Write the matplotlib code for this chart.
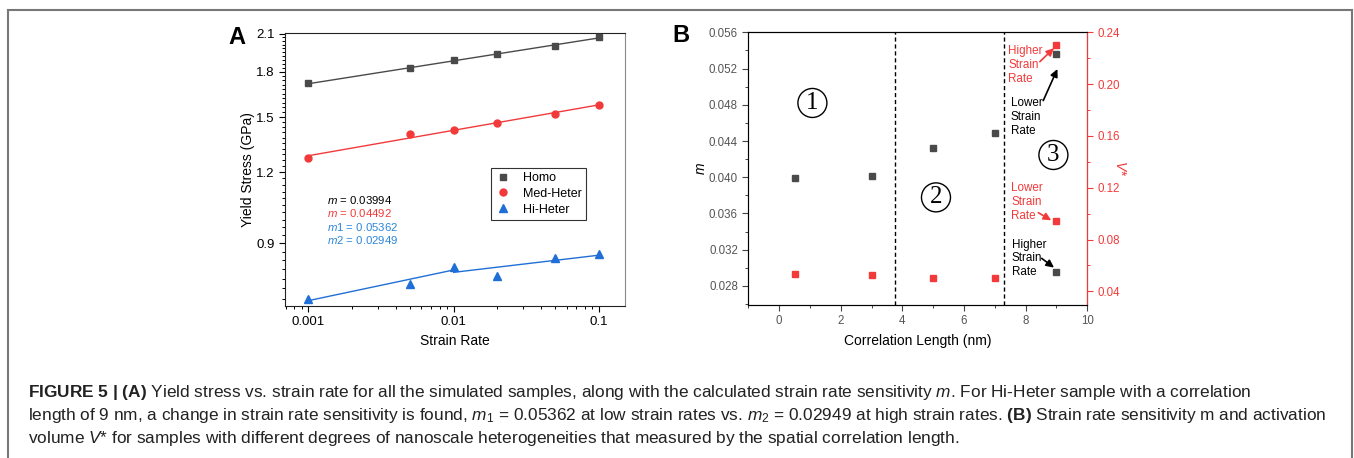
import numpy as np
import matplotlib
matplotlib.use("Agg")
import matplotlib.pyplot as plt
from matplotlib.patches import Rectangle

plt.rcParams['font.family'] = ['Liberation Sans', 'DejaVu Sans']
plt.rcParams['mathtext.fontset'] = 'custom'
plt.rcParams['mathtext.rm'] = 'Liberation Sans'
plt.rcParams['mathtext.it'] = 'Liberation Sans:italic'
plt.rcParams['mathtext.bf'] = 'Liberation Sans:bold'

# panel A data: yield stress vs strain rate
strain_rate = [0.001, 0.005, 0.01, 0.02, 0.05, 0.1]
homo = [1.719, 1.829, 1.886, 1.934, 1.998, 2.077]
med_heter = [1.273, 1.399, 1.422, 1.462, 1.521, 1.577]
hi_heter = [0.718, 0.764, 0.819, 0.788, 0.848, 0.862]
m_labels = [r"$m$ = 0.03994", r"$m$ = 0.04492", r"$m$1 = 0.05362", r"$m$2 = 0.02949"]

# panel B data: m and V* vs correlation length
corr_len = [0.5, 3, 5, 7, 9, 9]
m_vals = [0.03994, 0.0401, 0.0432, 0.04492, 0.05362, 0.02949]
vstar = [0.0535, 0.0527, 0.0504, 0.0504, 0.2302, 0.0947]

caption = [
    r"$\mathbf{FIGURE\ 5\ |\ (A)}$ Yield stress vs. strain rate for all the simulated samples, along with the calculated strain rate sensitivity $m$. For Hi-Heter sample with a correlation",
    r"length of 9 nm, a change in strain rate sensitivity is found, $m_1$ = 0.05362 at low strain rates vs. $m_2$ = 0.02949 at high strain rates. $\mathbf{(B)}$ Strain rate sensitivity m and activation",
    r"volume $V$* for samples with different degrees of nanoscale heterogeneities that measured by the spatial correlation length.",
]

gray = '#4a4a4a'
red = '#f23a3a'
blue = '#1f6fd6'
blue_txt = '#2b86d9'

fig = plt.figure(figsize=(13.54, 4.58), dpi=100)

# outer frame
fig.patches.append(Rectangle((8/1354, -0.05), 1344/1354, 1.05 - 10/458, transform=fig.transFigure,
                             fill=False, edgecolor='#777777', lw=1.5))

# ---------------- panel A ----------------
ax = fig.add_axes([285/1354, 1 - 305.5/458, 340/1354, 272.8/458])
x = np.array(strain_rate)
ax.plot(x, homo, 's', color=gray, ms=4.6, zorder=3)
ax.plot(x, med_heter, 'o', color=red, ms=5, zorder=3)
ax.plot(x, hi_heter, '^', color=blue, ms=5.6, zorder=3)

lx = np.log10(x)
for ys, c in [(homo, gray), (med_heter, red)]:
    p = np.polyfit(lx, np.log10(ys), 1)
    ax.plot(x[[0, -1]], 10**np.polyval(p, lx[[0, -1]]), color=c, lw=1)
# Hi-Heter has two fits (low and high rates)
hy = np.log10(hi_heter)
p1 = np.polyfit(lx[:3], hy[:3], 1)
p2 = np.polyfit(lx[2:], hy[2:], 1)
ax.plot(x[[0, 2]], 10**np.polyval(p1, lx[[0, 2]]), color=blue, lw=1)
ax.plot(x[[2, -1]], 10**np.polyval(p2, lx[[2, -1]]), color=blue, lw=1)

ax.set_xscale('log')
ax.set_yscale('log')
ax.set_xlim(0.00069, 0.151)
ax.set_ylim(0.7, 2.11)
ax.set_xticks([0.001, 0.01, 0.1], ['0.001', '0.01', '0.1'])
ax.set_yticks([0.9, 1.2, 1.5, 1.8, 2.1], ['0.9', '1.2', '1.5', '1.8', '2.1'])
ax.set_yticks(np.round(np.arange(0.72, 2.1, 0.03), 2), minor=True)
ax.yaxis.set_minor_formatter(plt.NullFormatter())
ax.tick_params(which='both', direction='out', labelsize=9.5, top=False, right=False)
ax.tick_params(which='major', length=4, width=0.8)
ax.tick_params(which='minor', length=2.2, width=0.7)
ax.spines['right'].set_color('#888888')
for s in ['left', 'bottom', 'top']:
    ax.spines[s].set_color('#222222')
ax.set_xlabel('Strain Rate', fontsize=10)
ax.set_ylabel('Yield Stress (GPa)', fontsize=10)
ax.xaxis.set_label_coords(0.5, -0.105)
ax.yaxis.set_label_coords(-0.088, 0.5)

ax.legend(['Homo', 'Med-Heter', 'Hi-Heter'], loc='upper left', bbox_to_anchor=(0.605, 0.505),
          fontsize=9, frameon=True, fancybox=False, edgecolor='black', handlelength=1.2,
          handletextpad=1.0, borderpad=0.35, labelspacing=0.3, borderaxespad=0)
ax.get_legend().get_frame().set_linewidth(0.8)

for lab, c, yy in zip(m_labels, ['black', red, blue_txt, blue_txt], [0.387, 0.340, 0.289, 0.240]):
    ax.text(0.123, yy, lab, color=c, fontsize=8.2, transform=ax.transAxes, va='center')

fig.text(237/1354, 1 - 37/458, 'A', fontsize=17, fontweight='bold', ha='center', va='center')

# ---------------- panel B ----------------
bx = fig.add_axes([748.3/1354, 1 - 305/458, 339/1354, 272.7/458])
bx2 = bx.twinx()
bx.plot(corr_len, m_vals, 's', color=gray, ms=4, zorder=3)
bx2.plot(corr_len, vstar, 's', color=red, ms=4, zorder=3)

bx.set_xlim(-1, 10)
bx.set_ylim(0.0259, 0.056)
bx2.set_ylim(0.0295, 0.24)
bx.set_xticks(range(0, 11, 2))
bx.set_xticks(range(-1, 11), minor=True)
bx.set_yticks(np.arange(0.028, 0.0561, 0.004), [f'{v:.3f}' for v in np.arange(0.028, 0.0561, 0.004)])
bx.set_yticks(np.arange(0.026, 0.0561, 0.002), minor=True)
bx2.set_yticks(np.arange(0.04, 0.241, 0.04), [f'{v:.2f}' for v in np.arange(0.04, 0.241, 0.04)])
bx2.set_yticks(np.arange(0.04, 0.241, 0.02), minor=True)

bx.tick_params(which='both', direction='out', labelsize=8.3, labelcolor='#555555', color='#444444', top=False)
bx.tick_params(which='major', length=4, width=0.8)
bx.tick_params(which='minor', length=2.2, width=0.7)
bx2.tick_params(which='both', direction='out', labelsize=8.3, labelcolor=red, color=red)
bx2.tick_params(which='major', length=4, width=0.8)
bx2.tick_params(which='minor', length=2.2, width=0.7)
bx2.spines['right'].set_color(red)
bx.spines['left'].set_color('#555555')
bx.spines['bottom'].set_color('#333333')
bx.spines['top'].set_color('black')

bx.set_xlabel('Correlation Length (nm)', fontsize=10)
bx.xaxis.set_label_coords(0.5, -0.105)
bx.set_ylabel('$m$', fontsize=10)
bx.yaxis.set_label_coords(-0.118, 0.5)
bx2.set_ylabel('$V$*', fontsize=10, color=red, rotation=270, va='bottom')
bx2.yaxis.set_label_coords(1.075, 0.5)

for xv in [3.75, 7.3]:
    bx.axvline(xv, color='black', lw=1, ls=(0, (3, 2)))

for num, (tx, ty) in zip(['1', '2', '3'], [(1.08, 0.0482), (5.09, 0.03778), (8.9, 0.04246)]):
    bx.text(tx, ty, num, fontsize=18, family='Liberation Serif', ha='center', va='center',
            bbox=dict(boxstyle='circle,pad=0.14', fc='none', ec='black', lw=1))

notes = [
    ('Higher\nStrain\nRate', red, (7.44, 0.0546), (8.46, 0.05276), (8.92, 0.05425)),
    ('Lower\nStrain\nRate', 'black', (7.51, 0.04882), (8.57, 0.04846), (9.03, 0.05195)),
    ('Lower\nStrain\nRate', red, (7.54, 0.03948), (8.41, 0.03609), (8.83, 0.03525)),
    ('Higher\nStrain\nRate', 'black', (7.55, 0.03322), (8.52, 0.03105), (8.92, 0.03003)),
]
for txt, c, tpos, a0, a1 in notes:
    bx.text(tpos[0], tpos[1], txt, color=c, fontsize=8.4, va='top', ha='left', linespacing=1.2)
    bx.annotate('', xy=a1, xytext=a0,
                arrowprops=dict(arrowstyle='-|>,head_length=0.45,head_width=0.22', color=c, lw=1.2,
                                shrinkA=0, shrinkB=0))

fig.text(681/1354, 1 - 35/458, 'B', fontsize=17, fontweight='bold', ha='center', va='center')

# caption
for i, line in enumerate(caption):
    fig.text(28/1354, 1 - (392 + 23.5*i)/458, line, fontsize=12.4, ha='left', va='center', color='#222222')

fig.savefig('out.png', dpi=100)
